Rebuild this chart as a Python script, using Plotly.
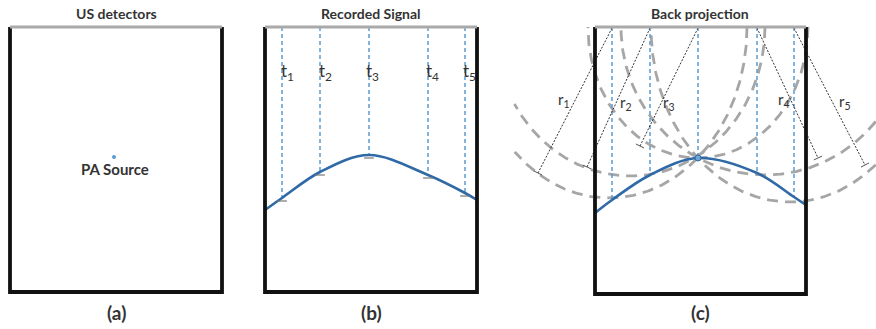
import numpy as np
import plotly.graph_objects as go

# ---------------- data ----------------
panel_titles = ["US detectors", "Recorded Signal", "Back projection"]
panel_labels = ["(a)", "(b)", "(c)"]
panel_left = [10, 265, 595]
panel_right = [222, 477, 806]
panel_center = [116, 371, 700]
box_top = 27
box_bottom = [292, 292, 294]

# panel (a): PA source
source_a = [114, 157]

# panel (b): detectors, recorded arrival curve
det_b_x = [282, 320, 369, 428, 465]
det_b_arrival = [198, 172, 155, 175, 193]
curve_b_x = [265, 282, 320, 369, 428, 465, 477]
curve_b_y = [210, 198, 172, 155, 175, 193, 200]
t_labels = ["t<sub>1</sub>", "t<sub>2</sub>", "t<sub>3</sub>", "t<sub>4</sub>", "t<sub>5</sub>"]
t_label_x = [287, 325, 372, 432, 469]

# panel (c): back projection
det_c_x = [612, 650, 698, 757, 794]
det_c_arrival = [200, 175, 158, 173, 197]
curve_c_x = [595, 612, 650, 698, 757, 794, 806]
curve_c_y = [213, 200, 175, 158, 173, 197, 205]
source_c = [698, 158]
# back-projection arcs (as drawn): centre x, half-width, depth
arc_cx = [609, 630, 698, 765, 790]
arc_half_width = [138, 135, 110, 144, 139]
arc_depth = [171, 149, 131, 148, 175]
r_end_x = [538, 587, 640, 818, 865]
r_end_y = [173, 167, 146, 158, 165]
r_labels = ["r<sub>1</sub>", "r<sub>2</sub>", "r<sub>3</sub>", "r<sub>4</sub>", "r<sub>5</sub>"]
r_label_x = [564, 626, 669, 784, 845]
r_label_y = [100, 103, 103, 100, 102]
arc_clip = [514, 876]

# ---------------- styles ----------------
BLACK = "#111111"
GREY_TOP = "#a9a9a9"
ARC_GREY = "#a6a6a6"
BLUE_DASH = "#5b9bd5"
CURVE = "#2f6aa6"
TXT = "#333333"
FONT = "Lato, Open Sans, sans-serif"

fig = go.Figure()


def line(x, y, color, width, dash="solid", shape="linear"):
    fig.add_trace(go.Scatter(x=x, y=y, mode="lines", hoverinfo="skip",
                             line=dict(color=color, width=width, dash=dash, shape=shape),
                             showlegend=False))


# arcs in (c) (drawn first, under everything)
for cx, a, b in zip(arc_cx, arc_half_width, arc_depth):
    th = np.linspace(0, np.pi, 400)
    ax = cx + a * np.cos(th)
    ay = box_top + b * np.sin(th)
    keep = (ax >= arc_clip[0]) & (ax <= arc_clip[1])
    line(ax[keep], ay[keep], ARC_GREY, 2.8, dash="11px,7px")

# blue dashed detector lines
for xd, yd in zip(det_b_x, det_b_arrival):
    line([xd, xd], [box_top, yd], BLUE_DASH, 1.5, dash="4px,3px")
for xd, yd in zip(det_c_x, det_c_arrival):
    line([xd, xd], [box_top, yd], BLUE_DASH, 1.5, dash="4px,3px")

# r dotted lines with end ticks
for xd, ex, ey in zip(det_c_x, r_end_x, r_end_y):
    line([xd, ex], [box_top + 1, ey], "#333333", 1.0, dash="2px,1.5px")
    dx, dy = ex - xd, ey - box_top
    n = np.hypot(dx, dy)
    px, py = -dy / n * 4.5, dx / n * 4.5
    line([ex - px, ex + px], [ey - py, ey + py], "#555555", 1.0)

# curves
line(curve_b_x, curve_b_y, CURVE, 2.6, shape="spline")
line(curve_c_x, curve_c_y, CURVE, 2.6, shape="spline")

# small marks at intersections in (b)
fig.add_trace(go.Scatter(x=det_b_x, y=[v + 3 for v in det_b_arrival], mode="markers",
                         hoverinfo="skip", showlegend=False,
                         marker=dict(symbol="line-ew", size=7,
                                     line=dict(color="#777777", width=1.2))))

# frames
for l, r, b in zip(panel_left, panel_right, box_bottom):
    line([l, l, r, r], [box_top, b, b, box_top], BLACK, 3.8)
    line([l, r], [box_top, box_top], GREY_TOP, 3.0)

# sources
fig.add_trace(go.Scatter(x=[source_a[0]], y=[source_a[1]], mode="markers",
                         hoverinfo="skip", showlegend=False,
                         marker=dict(size=4, color=BLUE_DASH)))
fig.add_trace(go.Scatter(x=[source_c[0]], y=[source_c[1]], mode="markers",
                         hoverinfo="skip", showlegend=False,
                         marker=dict(size=6, color="#6fa3d8",
                                     line=dict(color=CURVE, width=1))))

# text
for t, cx in zip(panel_titles, panel_center):
    fig.add_annotation(x=cx, y=13, text="<b>" + t + "</b>", showarrow=False,
                       font=dict(family=FONT, size=14, color=TXT))
for t, cx in zip(panel_labels, panel_center):
    fig.add_annotation(x=cx, y=312, text="<b>" + t + "</b>", showarrow=False,
                       font=dict(family=FONT, size=19, color=TXT))
fig.add_annotation(x=source_a[0] + 1, y=169, text="<b>PA Source</b>", showarrow=False,
                   font=dict(family=FONT, size=15, color=TXT))
for t, x in zip(t_labels, t_label_x):
    fig.add_annotation(x=x, y=72, text=t, showarrow=False,
                       font=dict(family=FONT, size=17, color=TXT))
for t, x, y in zip(r_labels, r_label_x, r_label_y):
    fig.add_annotation(x=x, y=y, text=t, showarrow=False,
                       font=dict(family=FONT, size=15, color=TXT))

fig.update_layout(
    width=876, height=329, margin=dict(l=0, r=0, t=0, b=0),
    paper_bgcolor="white", plot_bgcolor="white",
    xaxis=dict(range=[0, 876], visible=False, fixedrange=True),
    yaxis=dict(range=[329, 0], visible=False, fixedrange=True),
    showlegend=False,
)
fig.write_html("out.html", config={"displayModeBar": False})
